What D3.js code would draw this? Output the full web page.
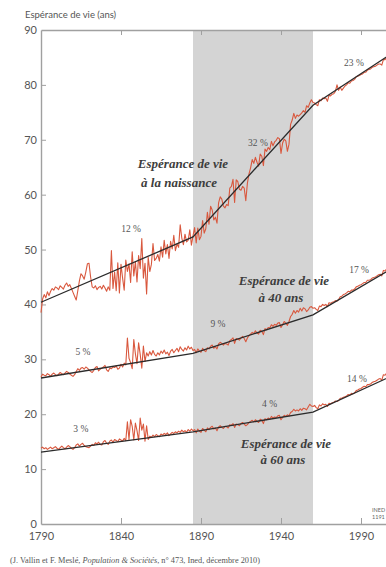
<!DOCTYPE html>
<html><head><meta charset="utf-8">
<script src="https://cdn.jsdelivr.net/npm/d3@7"></script>
<style>
html,body{margin:0;padding:0;background:#fff;}
svg{display:block;}
</style></head>
<body>
<script>
// ---------- DATA ----------
const startYear = 1790;
const birth = [
38.5,41.0,41.8,41.2,42.3,41.6,42.4,42.9,42.6,43.2,
43.0,42.7,43.4,43.1,42.8,43.5,43.9,43.3,43.6,42.9,
42.2,41.5,40.8,42.5,44.3,45.6,45.2,44.6,45.9,47.4,
47.5,45.0,43.2,43.0,43.4,42.7,43.1,43.3,42.8,43.5,
43.0,42.4,43.2,42.6,49.8,42.9,45.9,42.5,47.6,42.1,
47.3,44.8,42.6,48.1,46.0,47.4,44.0,49.6,45.2,47.8,
44.1,48.9,46.5,52.0,44.8,47.5,41.9,48.6,46.0,47.3,
51.1,48.0,48.4,49.1,47.9,50.5,48.6,51.7,49.2,50.9,
48.4,51.5,50.1,52.6,49.8,51.0,50.4,54.5,52.1,50.9,
52.8,51.4,51.7,53.6,50.8,52.5,54.0,51.2,53.9,51.8,
52.4,55.3,53.0,53.8,56.8,54.6,57.9,57.2,55.4,55.9,
54.8,58.5,59.6,59.2,57.9,57.6,58.2,58.0,61.2,61.5,
62.8,58.6,62.7,62.4,61.0,60.8,61.5,61.2,58.9,62.1,
63.8,64.9,66.4,65.7,66.8,65.9,65.2,67.4,67.0,65.3,
68.3,67.9,68.6,68.2,69.7,68.9,69.6,69.9,70.4,70.2,
67.5,69.4,70.1,69.8,67.9,69.2,72.8,73.6,74.8,73.9,
74.5,74.3,74.6,74.9,75.3,75.0,76.2,75.9,76.7,77.3,
76.8,76.7,76.4,76.2,77.3,77.1,77.6,77.5,77.6,77.0,
78.1,78.0,78.3,78.4,78.8,80.0,79.0,79.6,79.0,79.4,
79.8,80.0,80.4,80.3,80.7,80.8,81.0,81.5,81.6,81.7,
81.9,82.0,82.3,82.3,82.7,82.8,82.9,83.2,83.3,83.4,
83.6,83.8,83.8,83.6,84.6,84.6,85.0,85.3,85.6
];
const age40 = [
26.8,27.3,27.1,27.0,27.4,27.2,26.9,27.3,27.5,27.2,
27.0,27.3,27.6,27.4,27.2,27.5,27.8,27.6,27.3,27.1,
26.9,27.2,27.8,28.3,28.0,28.4,28.5,28.2,28.6,28.4,
28.1,27.8,27.6,28.0,28.5,28.7,27.9,28.2,28.4,28.6,
28.9,28.1,27.8,28.4,28.3,28.6,28.5,28.8,28.2,28.4,
29.1,28.6,29.3,29.0,33.9,30.2,29.4,28.3,33.6,31.0,
29.2,33.0,30.9,28.4,32.4,29.6,31.2,30.6,31.4,30.8,
31.6,30.9,30.6,31.2,30.8,31.5,31.1,31.7,31.0,31.3,
30.7,31.5,31.8,31.2,31.6,32.0,31.4,32.3,31.8,31.5,
32.1,31.7,32.4,31.9,32.2,31.6,31.8,31.2,31.9,31.5,
31.3,32.0,31.6,31.4,32.1,31.9,32.4,32.6,32.0,32.3,
31.9,32.8,33.1,32.9,32.6,32.9,32.8,32.6,33.4,33.6,
33.9,32.9,33.8,33.7,33.5,33.9,34.2,33.8,33.2,33.9,
34.3,34.6,34.9,34.7,35.2,34.8,34.6,35.3,35.1,34.5,
35.6,35.4,35.8,35.7,36.3,36.0,36.4,36.2,36.6,36.7,
35.8,36.3,36.9,36.6,36.2,36.9,37.8,38.2,38.9,38.4,
38.9,38.6,39.3,38.8,39.4,39.2,38.7,39.0,39.5,39.6,
39.3,39.4,39.1,38.9,39.7,39.6,40.0,39.8,40.0,39.6,
40.3,40.2,40.4,40.5,40.7,40.6,40.9,41.4,41.5,41.8,
41.9,42.1,42.4,42.3,42.6,42.6,42.8,43.2,43.3,43.5,
43.6,43.8,44.0,44.0,44.4,44.4,44.5,44.8,44.9,45.0,
45.2,45.4,45.5,45.2,46.2,46.1,46.5,46.8,46.9
];
const age60 = [
13.8,14.0,13.7,13.9,13.6,13.8,14.0,13.7,13.9,14.1,
13.8,13.6,13.9,14.2,13.9,13.7,14.0,14.3,14.1,13.8,
13.6,13.9,14.4,14.6,14.2,14.5,14.7,14.3,14.1,14.0,
13.9,14.2,14.5,14.3,14.8,14.6,14.9,14.5,14.4,15.0,
15.2,14.7,14.5,15.1,15.3,14.9,15.4,15.2,15.0,15.5,
15.3,15.1,15.6,15.2,18.6,15.4,19.0,17.8,15.3,18.4,
17.0,15.2,19.3,17.1,18.2,15.1,17.9,15.4,16.0,15.8,
16.2,15.9,16.3,16.1,15.9,16.4,16.2,16.5,16.3,16.6,
16.1,16.4,16.7,16.5,16.8,16.6,16.9,16.7,17.1,16.8,
17.0,16.7,17.2,16.9,17.3,17.0,17.2,16.6,17.3,16.9,
16.7,17.4,17.1,16.8,17.5,17.2,17.6,17.8,17.3,17.5,
17.0,17.7,17.9,17.6,17.4,17.8,17.7,17.5,18.1,18.0,
18.3,17.6,18.2,18.1,17.9,18.3,18.5,18.2,17.9,18.1,
18.5,18.7,18.9,18.6,19.0,18.7,18.5,19.1,18.9,18.3,
19.2,19.0,19.3,19.1,19.6,19.3,19.5,19.4,19.7,19.8,
19.0,19.4,19.8,19.6,19.9,19.7,20.3,20.5,20.9,20.6,
20.8,20.6,21.0,20.7,21.1,21.0,20.8,21.3,21.8,21.5,
21.4,21.6,21.2,21.0,21.7,21.5,21.9,21.7,21.8,21.4,
22.0,21.9,22.1,22.2,22.4,22.3,22.5,22.9,22.9,23.1,
23.2,23.3,23.6,23.5,23.8,23.7,23.9,24.3,24.4,24.6,
24.7,24.9,25.1,25.0,25.4,25.4,25.5,25.8,25.9,26.0,
26.2,26.4,26.5,26.2,27.2,27.1,27.5,27.7,27.8
];
// piecewise trend lines
const trendYears = [1790, 1885, 1960, 2008];
const trendBirth = [40.4, 52.3, 76.3, 85.5];
const trend40 = [26.6, 31.1, 38.1, 46.3];
const trend60 = [13.1, 16.8, 20.4, 26.8];
// shaded period
const bandYears = [1885, 1960];
// ticks
const xTicks = [1790, 1840, 1890, 1940, 1990];
const yTicks = [0, 10, 20, 30, 40, 50, 60, 70, 80, 90];
// percentage labels [text, year, value]
const pctLabels = [
  ["12 %", 1846.3, 53.2], ["32 %", 1925.6, 68.9], ["23 %", 1985.6, 83.5],
  ["5 %", 1816.2, 30.7], ["9 %", 1900.6, 35.9], ["17 %", 1988.8, 45.8],
  ["3 %", 1814.9, 16.8], ["4 %", 1932.9, 21.4], ["14 %", 1987.5, 25.9]
];
const curveLabels = [
  [["Espérance de vie", 183, 168], ["à la naissance", 179, 187]],
  [["Espérance de vie", 284, 285], ["à 40 ans", 281, 302]],
  [["Espérance de vie", 286, 448], ["à 60 ans", 283, 464]]
];

// ---------- CHART ----------
const W = 386, H = 567;
const svg = d3.select("body").append("svg").attr("width", W).attr("height", H);
const x = d3.scaleLinear().domain([1790, 2006]).range([41, 386.6]);
const y = d3.scaleLinear().domain([0, 90]).range([524, 30]);

// band
svg.append("rect")
  .attr("x", x(bandYears[0])).attr("y", y(90))
  .attr("width", x(bandYears[1]) - x(bandYears[0]))
  .attr("height", y(0) - y(90))
  .attr("fill", "#d4d4d4");

const axisColor = "#a0a0a0";
function styleAxis(g){
  g.selectAll(".domain").attr("stroke", axisColor).attr("stroke-width", 1.4);
  g.selectAll(".tick line").attr("stroke", axisColor).attr("stroke-width", 1);
  g.selectAll(".tick text").attr("fill", "#555").attr("font-family", "Lato, 'Open Sans', sans-serif").attr("font-size", 11);
}
const gx = svg.append("g").attr("transform", `translate(0,${y(0)})`)
  .call(d3.axisBottom(x).tickValues(xTicks).tickFormat(d3.format("d")).tickSizeInner(-6).tickSizeOuter(0).tickPadding(8));
styleAxis(gx);
const gt = svg.append("g").attr("transform", `translate(0,${y(90)})`)
  .call(d3.axisTop(x).tickValues(xTicks.slice(1)).tickFormat("").tickSizeInner(-5).tickSizeOuter(0));
styleAxis(gt);
const gy = svg.append("g").attr("transform", `translate(${x(1790)},0)`)
  .call(d3.axisLeft(y).tickValues(yTicks).tickSizeInner(-5).tickSizeOuter(0).tickPadding(4));
styleAxis(gy);
gy.selectAll(".tick").filter(d => d === 0 || d === 90).select("line").remove();

// lines
const years = d3.range(birth.length).map(i => startYear + i);
const line = d3.line().x(d => x(d[0])).y(d => y(d[1]));
const red = "#d9583e";
[birth, age40, age60].forEach(s => {
  svg.append("path").datum(years.map((yr, i) => [yr, s[i]]))
    .attr("d", line).attr("fill", "none").attr("stroke", red)
    .attr("stroke-width", 1.1).attr("stroke-linejoin", "round");
});
[trendBirth, trend40, trend60].forEach(t => {
  svg.append("path").datum(trendYears.map((yr, i) => [yr, t[i]]))
    .attr("d", line).attr("fill", "none").attr("stroke", "#2b2b2b")
    .attr("stroke-width", 1.3);
});

// pct labels
svg.append("g").selectAll("text").data(pctLabels).join("text")
  .attr("x", d => x(d[1])).attr("y", d => y(d[2]))
  .attr("text-anchor", "middle")
  .attr("font-family", "'Liberation Serif', serif").attr("font-size", 9.5)
  .attr("fill", "#555").text(d => d[0]);

// curve labels
curveLabels.forEach(lbl => {
  lbl.forEach(l => {
    svg.append("text").attr("x", l[1]).attr("y", l[2])
      .attr("text-anchor", "middle")
      .attr("font-family", "'Liberation Serif', serif")
      .attr("font-style", "italic").attr("font-weight", "bold")
      .attr("font-size", 13).attr("fill", "#3d3d3d").text(l[0]);
  });
});

// title
svg.append("text").attr("x", 25).attr("y", 18)
  .attr("font-family", "Lato, 'Open Sans', sans-serif").attr("font-size", 9.5)
  .attr("fill", "#555").text("Espérance de vie (ans)");

// INED tag
svg.append("text").attr("x", 372).attr("y", 512)
  .attr("font-family", "Lato, sans-serif").attr("font-size", 5.5).attr("fill", "#666").text("INED");
svg.append("text").attr("x", 372).attr("y", 518.5)
  .attr("font-family", "Lato, sans-serif").attr("font-size", 5.5).attr("fill", "#666").text("1191");

// source
const src = svg.append("text").attr("x", 10).attr("y", 563)
  .attr("font-family", "'Liberation Serif', serif").attr("font-size", 8.3).attr("fill", "#555");
src.append("tspan").text("(J. Vallin et F. Meslé, ");
src.append("tspan").attr("font-style", "italic").text("Population & Sociétés");
src.append("tspan").text(", n° 473, Ined, décembre 2010)");
</script>
</body></html>
